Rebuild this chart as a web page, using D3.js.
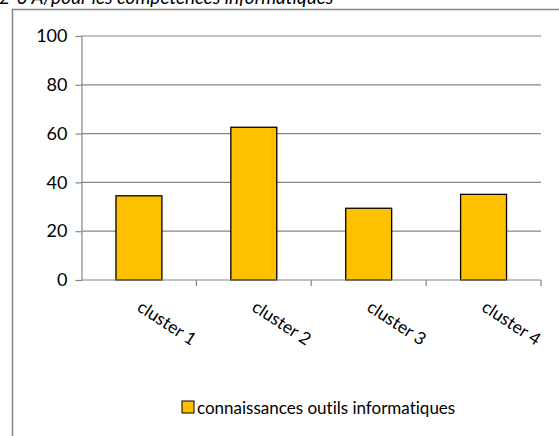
<!DOCTYPE html>
<html>
<head>
<meta charset="utf-8">
<script src="https://cdn.jsdelivr.net/npm/d3@7"></script>
<style>
  html, body { margin: 0; padding: 0; background: #fff; }
  svg { display: block; }
  text { font-family: Lato, "Open Sans", sans-serif; fill: #000; font-variant-ligatures: none; font-feature-settings: "liga" 0; }
</style>
</head>
<body>
<script>
// Chart data
const categories = ["cluster 1", "cluster 2", "cluster 3", "cluster 4"];
const values = [34.5, 62.6, 29.4, 35.1];
const yTicks = [0, 20, 40, 60, 80, 100];
const seriesName = "connaissances outils informatiques";
const heading = "2-3 A/pour les compétences informatiques";

const W = 559, H = 436;
const svg = d3.select("body").append("svg").attr("width", W).attr("height", H);

// Heading partly clipped at top edge
svg.append("text")
  .attr("x", -1).attr("y", 4)
  .style("font-style", "italic")
  .style("font-size", "19px")
  .text(heading);

// Chart area frame
svg.append("rect")
  .attr("x", 12.5).attr("y", 9.5)
  .attr("width", 600).attr("height", 500)
  .attr("fill", "none").attr("stroke", "#868686").attr("stroke-width", 1.5);

const plot = { left: 81.5, right: 541, top: 36, bottom: 280 };

const x = d3.scaleBand().domain(categories).range([plot.left, plot.right]).paddingInner(0.6).paddingOuter(0.3);
const y = d3.scaleLinear().domain([0, 100]).range([plot.bottom, plot.top]);

// Horizontal gridlines
svg.append("g").selectAll("line").data(yTicks.filter(d => d > 0)).join("line")
  .attr("x1", plot.left).attr("x2", plot.right)
  .attr("y1", d => y(d)).attr("y2", d => y(d))
  .attr("stroke", "#868686").attr("stroke-width", 1.2);

// Bars
svg.append("g").selectAll("rect").data(values).join("rect")
  .attr("x", (d, i) => x(categories[i]))
  .attr("y", d => y(d))
  .attr("width", x.bandwidth())
  .attr("height", d => y(0) - y(d))
  .attr("fill", "#FFC000").attr("stroke", "#000").attr("stroke-width", 1.3);

// Y axis
const yAxis = svg.append("g").attr("transform", `translate(${plot.left},0)`)
  .call(d3.axisLeft(y).tickValues(yTicks).tickSize(6).tickPadding(8));
yAxis.select(".domain").attr("stroke", "#868686").attr("stroke-width", 1.2);
yAxis.selectAll(".tick line").attr("stroke", "#868686").attr("stroke-width", 1.2);
yAxis.selectAll(".tick text").style("font-size", "18px").style("font-family", "Lato, sans-serif").attr("fill", "#000");

// X axis with boundary ticks between categories
const bounds = d3.range(categories.length + 1).map(i => plot.left + i * (plot.right - plot.left) / categories.length);
const xg = svg.append("g");
xg.append("line").attr("x1", plot.left).attr("x2", plot.right)
  .attr("y1", plot.bottom).attr("y2", plot.bottom)
  .attr("stroke", "#868686").attr("stroke-width", 1.2);
xg.selectAll("line.tk").data(bounds.slice(1)).join("line").attr("class", "tk")
  .attr("x1", d => d).attr("x2", d => d)
  .attr("y1", plot.bottom).attr("y2", plot.bottom + 6)
  .attr("stroke", "#868686").attr("stroke-width", 1.2);

// Rotated category labels
xg.selectAll("text").data(categories).join("text")
  .attr("transform", d => `translate(${x(d) + x.bandwidth() / 2 - 3},${plot.bottom + 30}) rotate(33)`)
  .style("font-size", "17.5px")
  .text(d => d);

// Legend
const lg = svg.append("g").attr("transform", "translate(182,401)");
lg.append("rect").attr("width", 12).attr("height", 12)
  .attr("fill", "#FFC000").attr("stroke", "#000").attr("stroke-width", 1);
lg.append("text").attr("x", 15).attr("y", 13).style("font-size", "17px").text(seriesName);
</script>
</body>
</html>
